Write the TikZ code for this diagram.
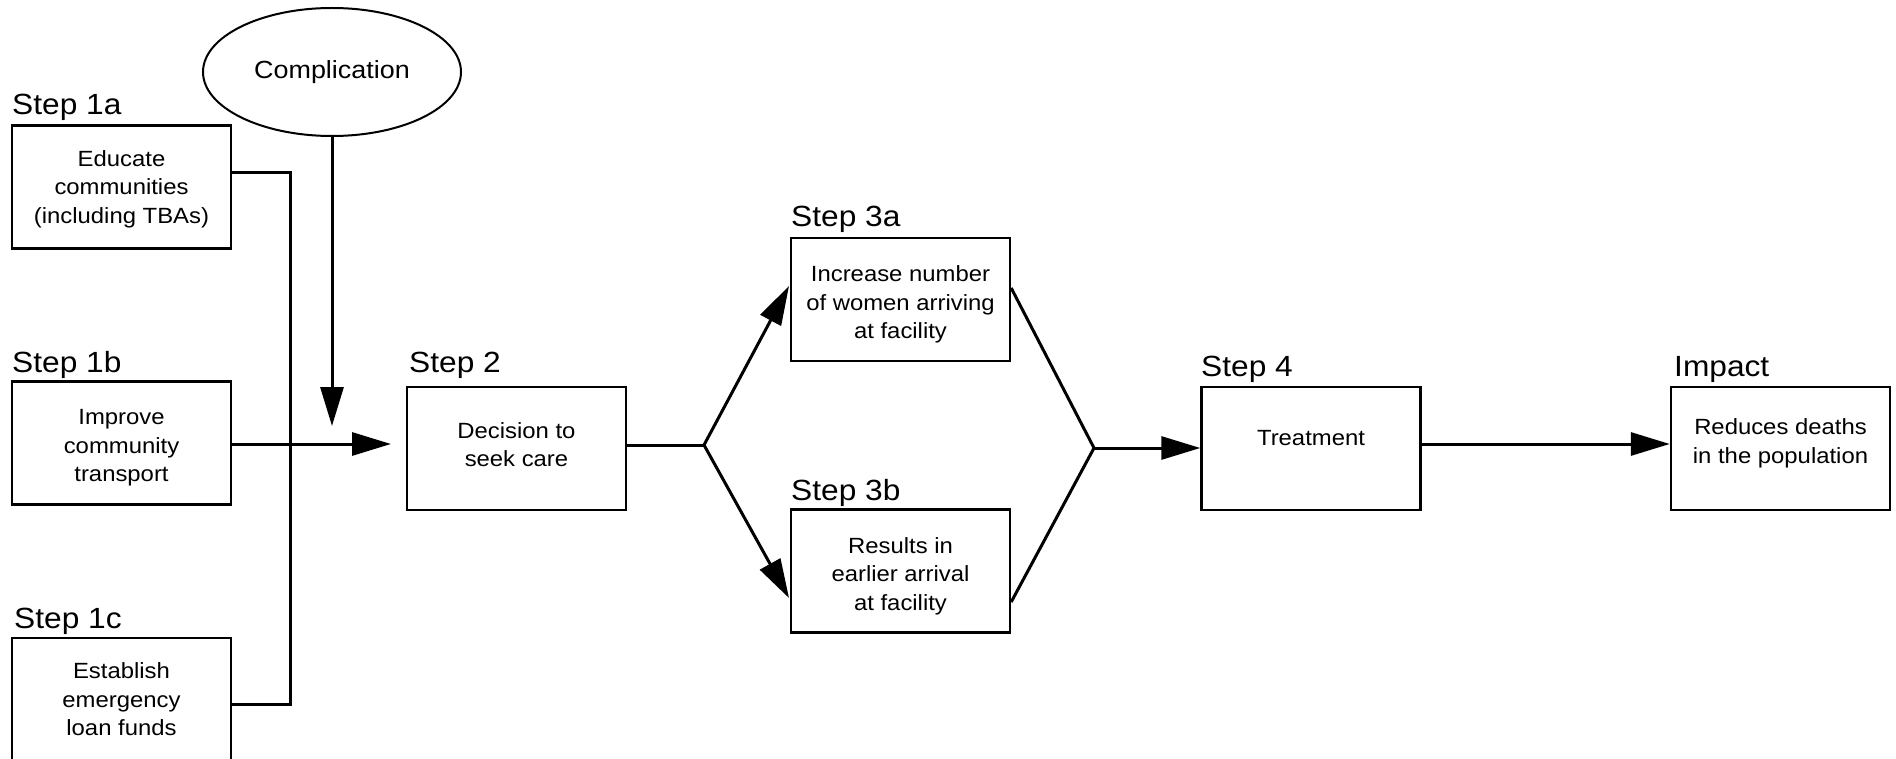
\documentclass[tikz,border=0pt]{standalone}
\usepackage{fontspec}
\setmainfont[FakeStretch=1.085]{Liberation Sans}
\usetikzlibrary{arrows.meta,shapes.geometric}
\newcommand\bodyfnt{\fontsize{22}{28.5}\selectfont}
\newcommand\stepfnt{\fontsize{29.2}{33}\selectfont}
\newcommand\compfnt{\fontsize{24.8}{28}\selectfont}
\begin{document}
\begin{tikzpicture}[x=1pt,y=-1pt,
  stepbox/.style={draw, line width=2.4pt, minimum width=219pt, minimum height=123pt,
    inner sep=0pt},
  boxtxt/.style={font=\bodyfnt, align=center, inner sep=0pt},
  steplabel/.style={anchor=base west, inner sep=0pt, font=\stepfnt},
  conn/.style={line width=3pt},
  arr/.style={line width=3pt, -{Triangle[length=39pt,width=23pt]}}]
\useasboundingbox (0,0) rectangle (1896,759);
\fill[white] (0,0) rectangle (1896,759);

% Complication
\node[draw, ellipse, line width=2pt, minimum width=258pt, minimum height=128pt,
  inner sep=0pt, font=\compfnt] (comp) at (332,72) {Complication};

% Step 1 boxes
\node[stepbox, label={[name=t1a, boxtxt, yshift=-2pt]center:{Educate\\communities\\(including TBAs)}}] (b1a) at (121.5,187) {};
\node[stepbox, label={[name=t1b, boxtxt, yshift=-5pt]center:{Improve\\community\\transport}}] (b1b) at (121.5,443) {};
\node[stepbox, label={[name=t1c, boxtxt, yshift=0pt]center:{Establish\\emergency\\loan funds}}] (b1c) at (121.5,699.5) {};
\node[steplabel] (l1a) at (12,115) {Step 1a};
\node[steplabel] (l1b) at (12,372) {Step 1b};
\node[steplabel] (l1c) at (14,628) {Step 1c};

% Step 2
\node[stepbox, label={[name=t2, boxtxt, yshift=4pt]center:{Decision to\\seek care}}] (b2) at (516.5,448.5) {};
\node[steplabel] (l2) at (409,372) {Step 2};

% Step 3
\node[stepbox, label={[name=t3a, boxtxt, yshift=-5pt]center:{Increase number\\of women arriving\\at facility}}] (b3a) at (900.5,299.5) {};
\node[stepbox, label={[name=t3b, boxtxt, yshift=-5pt]center:{Results in\\earlier arrival\\at facility}}] (b3b) at (900.5,571) {};
\node[steplabel] (l3a) at (791,227) {Step 3a};
\node[steplabel] (l3b) at (791,500) {Step 3b};

% Step 4 and impact
\node[stepbox, label={[name=t4, boxtxt, yshift=10pt]center:Treatment}] (b4) at (1311,448.5) {};
\node[stepbox, label={[name=timp, boxtxt, yshift=5pt]center:{Reduces deaths\\in the population}}] (imp) at (1780.5,448.5) {};
\node[steplabel] (l4) at (1201,377) {Step 4};
\node[steplabel] (limp) at (1674,377) {Impact};

% coordinates
\coordinate (v1) at (290,173);
\coordinate (v2) at (290,704);
\coordinate (in2) at (391,444);
\coordinate (cin) at (332,426);
\coordinate (j1) at (704,445);
\coordinate (t3a) at (789,286);
\coordinate (t3b) at (789,598);
\coordinate (j2) at (1094,448);

% connectors step 1
\draw[conn] (b1a.east |- v1) -- (v1) -- (v2) -- (b1c.east |- v2);
\draw[arr] (b1b.east |- in2) -- (in2);
\draw[arr] (comp.south) -- (cin);

% step 2 to 3
\draw[conn] (b2.east |- j1) -- (j1);
\draw[arr] (j1) -- (t3a);
\draw[arr] (j1) -- (t3b);

% step 3 to 4
\draw[conn] ([yshift=11.5pt]b3a.east) -- (j2);
\draw[conn] ([yshift=-31pt]b3b.east) -- (j2);
\draw[arr] (j2) -- (b4.west |- j2);

% step 4 to impact
\draw[arr] ([yshift=4.5pt]b4.east) -- ([yshift=4.5pt]imp.west);
\end{tikzpicture}
\end{document}
